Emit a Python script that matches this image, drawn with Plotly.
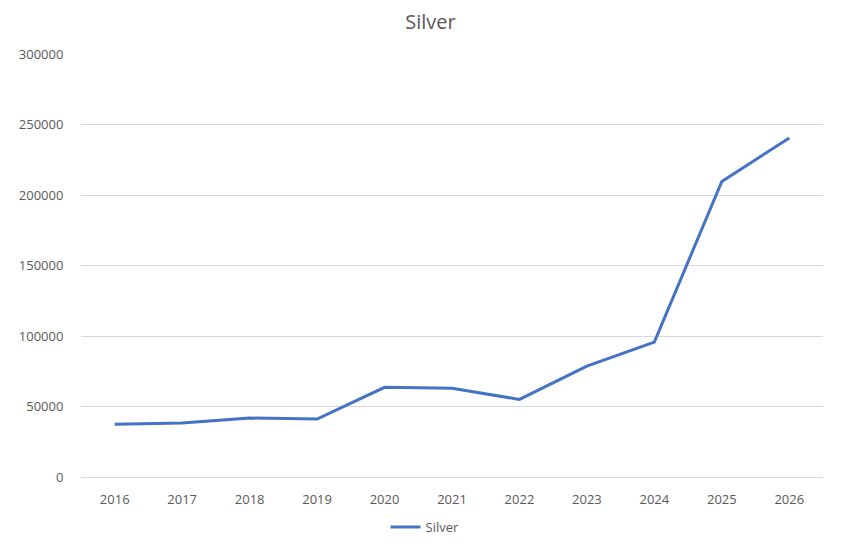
import plotly.graph_objects as go

years = [2016, 2017, 2018, 2019, 2020, 2021, 2022, 2023, 2024, 2025, 2026]
silver = [37400, 38300, 41800, 41100, 63600, 62900, 55000, 78600, 95700, 209600, 240500]
y_ticks = [0, 50000, 100000, 150000, 200000, 250000, 300000]

font_family = "Open Sans"
text_color = "#595959"
grid_color = "#D9D9D9"

fig = go.Figure()
fig.add_trace(go.Scatter(
    x=years, y=silver, mode="lines", name="Silver",
    line=dict(color="#4472C4", width=3),
))

fig.update_layout(
    width=861, height=550,
    margin=dict(l=81, r=38, t=54, b=73, autoexpand=False),
    paper_bgcolor="white", plot_bgcolor="white",
    font=dict(family=font_family, size=13, color=text_color),
    title=dict(text="Silver", x=0.5, xref="container", xanchor="center",
               y=1 - 22 / 550, yref="container", yanchor="middle",
               font=dict(size=20, color=text_color, family=font_family)),
    showlegend=True,
    legend=dict(orientation="h", x=425 / 861, xref="container", xanchor="center",
                y=1 - 527 / 550, yref="container", yanchor="middle",
                font=dict(size=13, color=text_color)),
)
fig.update_xaxes(
    range=[2015.5, 2026.5], tickmode="array", tickvals=years,
    ticktext=[str(y) for y in years],
    showgrid=False, showline=True, linecolor=grid_color, linewidth=1,
    ticks="outside", ticklen=10, tickcolor="rgba(0,0,0,0)",
    zeroline=False, fixedrange=True, automargin=False,
)
fig.update_yaxes(
    range=[0, 300000], tickmode="array", tickvals=y_ticks,
    ticktext=[str(v) for v in y_ticks],
    showgrid=True, gridcolor=grid_color, gridwidth=1,
    zeroline=False, showline=False,
    ticks="outside", ticklen=14, tickcolor="rgba(0,0,0,0)",
    fixedrange=True, automargin=False,
)

fig.write_html("out.html")
